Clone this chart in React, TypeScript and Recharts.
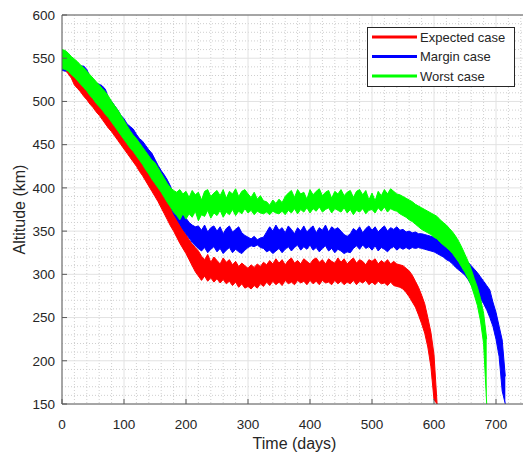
import { ComposedChart, Area, XAxis, YAxis, CartesianGrid, ReferenceLine, Legend } from 'recharts';

// altitude envelope (km) sampled every 5 days: lower / upper edge of each noisy trace
const STEP = 5;

const expectedHi = [
  552, 550, 546, 542, 538, 534, 530, 526, 521, 517,
  512, 507, 503, 498, 493, 488, 483, 478, 473, 468,
  462, 457, 452, 447, 442, 437, 432, 426, 420, 415,
  409, 403, 397, 390, 383, 377, 370, 364, 358, 352,
  346, 340, 335, 331, 327, 321, 317, 323, 314, 320,
  316, 312, 319, 314, 317, 311, 315, 309, 313, 310,
  307, 311, 308, 312, 309, 314, 311, 316, 312, 318,
  313, 317, 311, 316, 319, 313, 316, 312, 318, 315,
  312, 317, 319, 314, 317, 312, 318, 315, 313, 319,
  314, 318, 312, 316, 319, 313, 317, 315, 311, 317,
  315, 318, 312, 316, 313, 317, 312, 315, 312, 311,
  310, 307, 304, 299, 292, 285, 276, 266, 250, 233,
  207, 150,
];
const expectedLo = [
  540, 536, 532, 527, 519, 515, 511, 506, 502, 497,
  493, 488, 484, 479, 474, 469, 465, 460, 455, 450,
  445, 440, 435, 430, 425, 419, 414, 408, 402, 396,
  390, 384, 377, 370, 363, 356, 350, 343, 336, 330,
  324, 317, 310, 303, 298, 293, 298, 292, 296, 291,
  295, 290, 294, 289, 292, 287, 291, 285, 289, 284,
  286, 283, 287, 284, 289, 286, 291, 287, 292, 288,
  291, 287, 293, 289, 291, 288, 293, 290, 292, 288,
  293, 289, 292, 288, 293, 290, 291, 288, 293, 289,
  292, 288, 291, 289, 293, 288, 292, 290, 293, 288,
  291, 288, 292, 289, 290, 287, 291, 287, 286, 285,
  283, 279, 274, 268, 262, 253, 243, 232, 216, 193,
  155, 150,
];

const marginHi = [
  558, 558, 554, 550, 547, 544, 541, 541, 537, 529,
  525, 521, 520, 518, 514, 504, 500, 495, 490, 484,
  480, 474, 471, 468, 462, 457, 454, 449, 444, 440,
  433, 426, 420, 415, 409, 402, 392, 382, 375, 369,
  365, 360, 357, 355, 356, 351, 357, 349, 354, 356,
  350, 355, 347, 353, 356, 349, 352, 355, 348, 345,
  343, 341, 344, 340, 342, 343, 349, 355, 350, 357,
  351, 354, 348, 356, 352, 347, 354, 350, 356, 349,
  353, 356, 348, 354, 351, 357, 349, 355, 352, 354,
  350, 346, 344, 347, 353, 350, 355, 348, 353, 356,
  351, 355, 349, 353, 356, 350, 354, 352, 355, 351,
  352, 349, 350, 348, 349, 347, 347, 346, 345, 344,
  343, 341, 340, 338, 336, 333, 330, 327, 323, 320,
  317, 314, 310, 306, 302, 297, 292, 287, 282, 268,
  256, 240, 224, 182,
];
const marginLo = [
  536, 535, 536, 532, 529, 525, 521, 517, 513, 508,
  504, 499, 495, 491, 486, 482, 477, 472, 467, 462,
  457, 452, 447, 443, 438, 433, 428, 422, 417, 411,
  406, 401, 396, 390, 384, 379, 370, 364, 358, 352,
  347, 342, 337, 333, 330, 327, 331, 325, 329, 332,
  326, 330, 324, 328, 331, 325, 329, 326, 324, 328,
  331, 333, 332, 334, 331, 330, 326, 328, 324, 327,
  330, 325, 329, 332, 327, 331, 334, 328, 332, 329,
  334, 328, 331, 326, 330, 333, 327, 330, 325, 329,
  327, 324, 326, 325, 330, 333, 329, 334, 330, 332,
  328, 333, 327, 331, 329, 326, 330, 332, 328, 331,
  329, 331, 329, 331, 330, 331, 330, 329, 328, 327,
  326, 324, 322, 320, 317, 315, 312, 308, 305, 302,
  299, 294, 288, 282, 276, 272, 266, 259, 250, 240,
  225, 205, 165, 150,
];

const worstHi = [
  560, 559, 556, 552, 549, 546, 542, 539, 535, 531,
  527, 523, 519, 515, 511, 506, 500, 495, 490, 484,
  478, 472, 466, 461, 457, 452, 447, 442, 437, 432,
  429, 423, 417, 411, 405, 400, 397, 395, 398, 393,
  396, 389, 397, 392, 395, 386, 396, 398, 390, 394,
  397, 391, 398, 388, 396, 393, 399, 390, 396, 398,
  393, 389, 395, 387, 391, 385, 384, 380, 386, 382,
  387, 383, 390, 394, 397, 389, 398, 393, 395, 387,
  398, 392, 396, 399, 391, 395, 397, 388, 396, 393,
  398, 391, 395, 397, 389, 396, 398, 392, 397, 386,
  394, 385, 396, 391, 398, 393, 399, 396, 393, 392,
  390, 388, 386, 384, 381, 379, 377, 375, 373, 371,
  369, 367, 363, 360, 357, 353, 349, 344, 338, 331,
  323, 315, 306, 295, 285, 272, 255, 225,
];
const worstLo = [
  538, 537, 535, 531, 528, 524, 520, 516, 512, 507,
  503, 498, 494, 490, 485, 481, 476, 471, 466, 461,
  456, 451, 446, 442, 437, 432, 427, 421, 416, 410,
  405, 400, 395, 389, 383, 378, 372, 368, 363, 370,
  364, 370, 366, 373, 362, 369, 367, 374, 365, 371,
  368, 374, 366, 372, 369, 375, 368, 373, 370, 376,
  371, 374, 369, 373, 371, 370, 372, 369, 373, 371,
  370, 373, 369, 374, 371, 376, 370, 375, 372, 377,
  371, 376, 373, 378, 372, 375, 377, 371, 376, 374,
  372, 377, 371, 375, 369, 374, 372, 376, 370, 374,
  375, 371, 377, 373, 378, 372, 376, 374, 373, 370,
  368, 366, 363, 361, 358, 355, 352, 350, 348, 346,
  343, 341, 337, 334, 331, 328, 324, 319, 314, 308,
  302, 295, 287, 276, 264, 246, 220, 150,
];

const seriesNames = ['Expected case', 'Margin case', 'Worst case'];
const seriesColors = ['#ff0000', '#0000ff', '#00ff00'];
const xTicks = [0, 100, 200, 300, 400, 500, 600, 700];
const yTicks = [150, 200, 250, 300, 350, 400, 450, 500, 550, 600];
const X_MAX = 750;
const Y_MIN = 150;
const Y_MAX = 600;

const band = (lo: number[], hi: number[], i: number) =>
  i < hi.length ? [lo[i], hi[i]] : null;

const rowCount = Math.max(expectedHi.length, marginHi.length, worstHi.length);
const data = Array.from({ length: rowCount }, (_, i) => ({
  day: i * STEP,
  expected: band(expectedLo, expectedHi, i),
  margin: band(marginLo, marginHi, i),
  worst: band(worstLo, worstHi, i),
}));

// minor grid every 20 days / 10 km
const minorX: number[] = [];
for (let d = 20; d < X_MAX; d += 20) if (d % 100 !== 0) minorX.push(d);
const minorY: number[] = [];
for (let v = Y_MIN + 10; v < Y_MAX; v += 10) if (v % 50 !== 0) minorY.push(v);

const FONT = '"Liberation Sans", Arial, Helvetica, sans-serif';
const AXIS = '#5a5a5a';
const TEXT = '#262626';

const XTick = ({ x, y, payload }: any) => (
  <g>
    <line x1={x} x2={x} y1={y - 15} y2={y - 20} stroke={AXIS} />
    <text x={x} y={y} dy="0.71em" textAnchor="middle" fill={TEXT} fontSize={13.5} fontFamily={FONT}>
      {payload.value}
    </text>
  </g>
);

const YTick = ({ x, y, payload }: any) => (
  <g>
    <line x1={x + 7} x2={x + 12} y1={y} y2={y} stroke={AXIS} />
    <text x={x} y={y} dy="0.355em" textAnchor="end" fill={TEXT} fontSize={13.5} fontFamily={FONT}>
      {payload.value}
    </text>
  </g>
);

const LegendBox = () => (
  <svg width={148} height={60} style={{ display: 'block' }}>
    <rect x={0.5} y={0.5} width={147} height={59} fill="#fff" stroke={TEXT} />
    {seriesNames.map((name, i) => (
      <g key={name}>
        <line x1={5} x2={50} y1={10 + 19.5 * i} y2={10 + 19.5 * i} stroke={seriesColors[i]} strokeWidth={3} />
        <text x={53} y={10 + 19.5 * i} dominantBaseline="central" fontSize={13} fontFamily={FONT} fill={TEXT}>
          {name}
        </text>
      </g>
    ))}
  </svg>
);

export default function App() {
  return (
    <div
      style={{
        position: 'absolute',
        left: 0,
        top: 0,
        width: 523,
        height: 455,
        overflow: 'hidden',
        background: '#fff',
        fontFamily: FONT,
      }}
    >
      <ComposedChart width={530} height={455} data={data} margin={{ top: 15, right: 3, bottom: 0, left: 0 }}>
        <CartesianGrid
          stroke="#cfcfcf"
          strokeDasharray="1 2"
          verticalCoordinatesGenerator={({ offset }: any) =>
            minorX.map((d) => offset.left + (d / X_MAX) * offset.width)
          }
          horizontalCoordinatesGenerator={({ offset }: any) =>
            minorY.map((v) => offset.top + ((Y_MAX - v) / (Y_MAX - Y_MIN)) * offset.height)
          }
        />
        <CartesianGrid stroke="#e2e2e2" />
        <XAxis
          dataKey="day"
          type="number"
          domain={[0, X_MAX]}
          ticks={xTicks}
          allowDataOverflow
          height={51}
          stroke={AXIS}
          tickLine={false}
          tickSize={14}
          tickMargin={1}
          tick={<XTick />}
          label={({ viewBox }: any) => (
            <text
              x={viewBox.x + viewBox.width / 2}
              y={viewBox.y + 39}
              textAnchor="middle"
              dominantBaseline="central"
              fontSize={16}
              fontFamily={FONT}
              fill={TEXT}
            >
              Time (days)
            </text>
          )}
        />
        <YAxis
          type="number"
          domain={[Y_MIN, Y_MAX]}
          ticks={yTicks}
          allowDataOverflow
          width={62}
          stroke={AXIS}
          tickLine={false}
          tickSize={7}
          tickMargin={0}
          tick={<YTick />}
          label={({ viewBox }: any) => {
            const cx = viewBox.x + 19;
            const cy = viewBox.y + viewBox.height / 2;
            return (
              <text
                x={cx}
                y={cy}
                transform={`rotate(-90, ${cx}, ${cy})`}
                textAnchor="middle"
                dominantBaseline="central"
                fontSize={16}
                fontFamily={FONT}
                fill={TEXT}
              >
                Altitude (km)
              </text>
            );
          }}
        />
        <Area
          type="linear"
          dataKey="expected"
          stroke={seriesColors[0]}
          strokeWidth={1}
          fill={seriesColors[0]}
          fillOpacity={1}
          dot={false}
          activeDot={false}
          isAnimationActive={false}
        />
        <Area
          type="linear"
          dataKey="margin"
          stroke={seriesColors[1]}
          strokeWidth={1}
          fill={seriesColors[1]}
          fillOpacity={1}
          dot={false}
          activeDot={false}
          isAnimationActive={false}
        />
        <Area
          type="linear"
          dataKey="worst"
          stroke={seriesColors[2]}
          strokeWidth={1}
          fill={seriesColors[2]}
          fillOpacity={1}
          dot={false}
          activeDot={false}
          isAnimationActive={false}
        />
        <ReferenceLine y={Y_MAX} stroke={AXIS} />
        <ReferenceLine x={X_MAX} stroke={AXIS} />
        <Legend
          layout="vertical"
          align="center"
          verticalAlign="middle"
          wrapperStyle={{ left: 367, top: 27, width: 148, height: 60 }}
          content={() => <LegendBox />}
        />
      </ComposedChart>
    </div>
  );
}
